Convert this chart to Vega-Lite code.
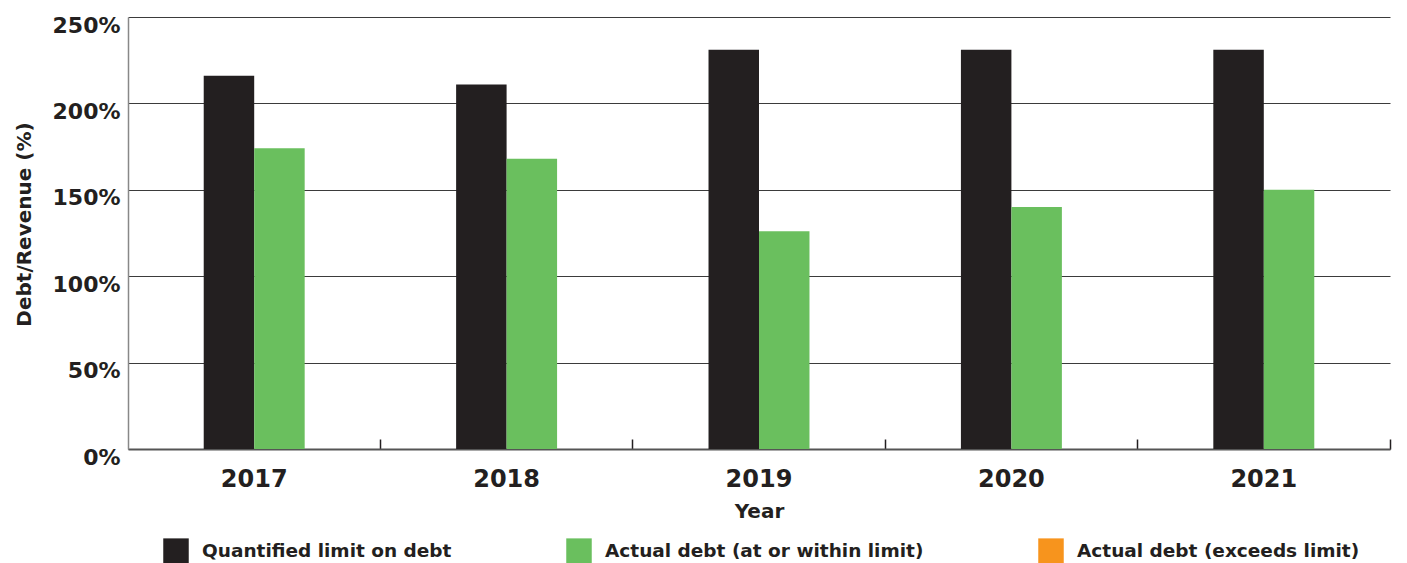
{
  "$schema": "https://vega.github.io/schema/vega-lite/v6.json",
  "width": 1262,
  "height": 432,
  "autosize": {"type": "none"},
  "padding": {"left": 128, "top": 17, "right": 17, "bottom": 114},
  "background": "white",
  "config": {"view": {"stroke": null}, "font": "DejaVu Sans"},
  "data": {
    "values": [
      {"year": "2017", "series": "Quantified limit on debt", "value": 216},
      {"year": "2017", "series": "Actual debt (at or within limit)", "value": 174},
      {"year": "2018", "series": "Quantified limit on debt", "value": 211},
      {"year": "2018", "series": "Actual debt (at or within limit)", "value": 168},
      {"year": "2019", "series": "Quantified limit on debt", "value": 231},
      {"year": "2019", "series": "Actual debt (at or within limit)", "value": 126},
      {"year": "2020", "series": "Quantified limit on debt", "value": 231},
      {"year": "2020", "series": "Actual debt (at or within limit)", "value": 140},
      {"year": "2021", "series": "Quantified limit on debt", "value": 231},
      {"year": "2021", "series": "Actual debt (at or within limit)", "value": 150}
    ]
  },
  "mark": {"type": "bar"},
  "encoding": {
    "x": {
      "field": "year",
      "type": "nominal",
      "scale": {"paddingInner": 0.6, "paddingOuter": 0.3},
      "axis": {
        "orient": "bottom",
        "labelAngle": 0,
        "labelFont": "DejaVu Sans",
        "labelFontSize": 24,
        "labelFontWeight": "bold",
        "labelColor": "#231f20",
        "labelPadding": 28,
        "bandPosition": 1.75,
        "tickExtra": false,
        "ticks": true,
        "tickSize": -10,
        "tickColor": "#231f20",
        "tickWidth": 1.5,
        "domainColor": "#555555",
        "domainWidth": 2,
        "grid": false,
        "title": "Year",
        "titleFont": "DejaVu Sans",
        "titleFontSize": 20,
        "titleFontWeight": "bold",
        "titleColor": "#231f20",
        "titlePadding": 10
      }
    },
    "xOffset": {
      "field": "series",
      "scale": {"domain": ["Quantified limit on debt", "Actual debt (at or within limit)"], "paddingInner": 0}
    },
    "y": {
      "field": "value",
      "type": "quantitative",
      "scale": {"domain": [0, 250], "nice": false},
      "axis": {
        "values": [0, 50, 100, 150, 200, 250],
        "labelExpr": "datum.value + '%'",
        "labelFont": "DejaVu Sans",
        "labelFontSize": 22,
        "labelFontWeight": "bold",
        "labelColor": "#231f20",
        "labelPadding": 8,
        "labelOffset": 8,
        "ticks": false,
        "domainColor": "#888888",
        "domainWidth": 1.5,
        "gridColor": "#3b3b3b",
        "gridWidth": 1.2,
        "title": "Debt/Revenue (%)",
        "titleFont": "DejaVu Sans",
        "titleFontSize": 20,
        "titleFontWeight": "bold",
        "titleColor": "#231f20",
        "titlePadding": 18,
        "titleY": 207
      }
    },
    "color": {
      "field": "series",
      "type": "nominal",
      "scale": {
        "domain": ["Quantified limit on debt", "Actual debt (at or within limit)", "Actual debt (exceeds limit)"],
        "range": ["#231f20", "#6abf5e", "#f7941d"]
      },
      "legend": {
        "orient": "none",
        "legendX": 35,
        "legendY": 521,
        "direction": "horizontal",
        "columns": 3,
        "columnPadding": 114,
        "symbolType": "square",
        "symbolSize": 650,
        "symbolStrokeWidth": 0,
        "symbolOpacity": 1,
        "labelFont": "DejaVu Sans",
        "labelFontSize": 18.5,
        "labelFontWeight": "bold",
        "labelColor": "#231f20",
        "labelOffset": 13,
        "labelLimit": 500,
        "title": null,
        "padding": 0
      }
    }
  }
}
